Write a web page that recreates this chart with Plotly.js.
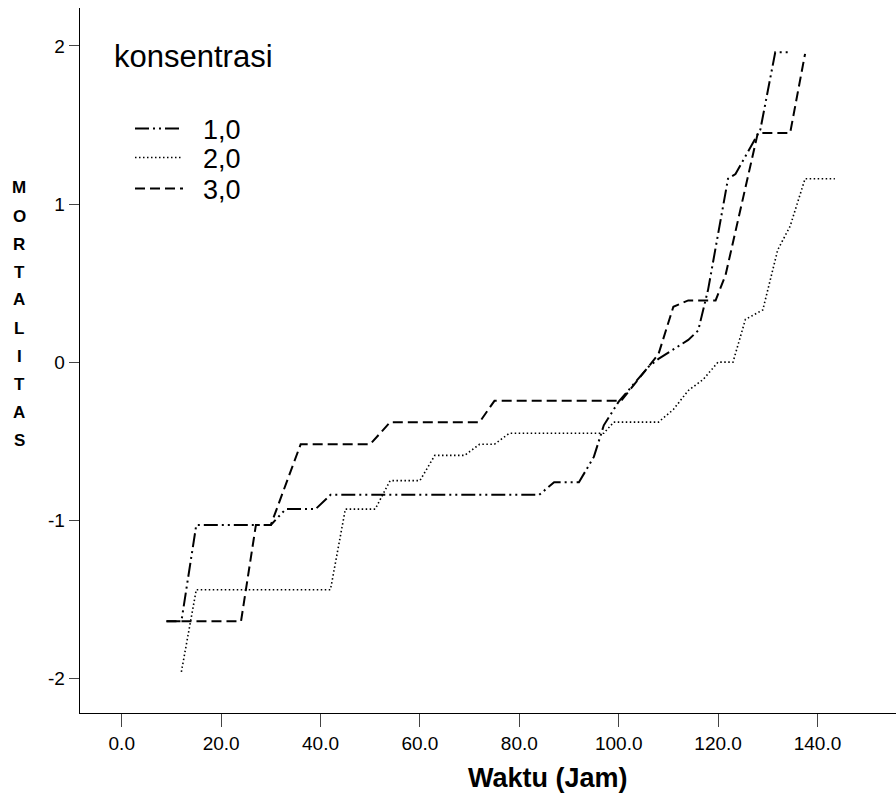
<!DOCTYPE html>
<html>
<head>
<meta charset="utf-8">
<script src="https://cdn.plot.ly/plotly-3.0.1.min.js"></script>
<style>html,body{margin:0;padding:0;background:#fff;}#chart{width:896px;height:798px;}</style>
</head>
<body>
<div id="chart"></div>
<script>
// Series names (konsentrasi)
var seriesNames = ['1,0', '2,0', '3,0'];

// 1,0 (dash-dot-dot line)
var x1 = [9, 12, 15, 30, 33, 39, 42, 84, 87, 92, 95, 97, 100, 104, 106, 108, 114, 116, 118, 122, 123.5, 128.5, 131.5, 134.5];
var y1 = [-1.64, -1.64, -1.03, -1.03, -0.93, -0.93, -0.84, -0.84, -0.76, -0.76, -0.60, -0.40, -0.25, -0.10, -0.03, 0.02, 0.14, 0.20, 0.46, 1.16, 1.19, 1.47, 1.96, 1.96];

// 2,0 (dotted line)
var x2 = [12, 15, 42, 45, 51, 54, 60, 63, 69, 72, 75, 78, 97, 99, 108, 111, 114, 117, 120, 123, 125.5, 129, 132, 134.5, 137.5, 143.5];
var y2 = [-1.96, -1.44, -1.44, -0.93, -0.93, -0.75, -0.75, -0.59, -0.59, -0.52, -0.52, -0.45, -0.45, -0.38, -0.38, -0.30, -0.18, -0.11, 0.0, 0.0, 0.27, 0.33, 0.71, 0.86, 1.16, 1.16];

// 3,0 (dashed line)
var x3 = [9, 24, 27, 30, 36, 50, 54, 72, 75, 100.5, 108, 111, 114, 119.5, 121.5, 128, 134.5, 137.5];
var y3 = [-1.64, -1.64, -1.03, -1.03, -0.52, -0.52, -0.38, -0.38, -0.245, -0.245, 0.05, 0.35, 0.39, 0.39, 0.55, 1.45, 1.45, 1.95];

// Axis ticks
var xTicks = [0, 20, 40, 60, 80, 100, 120, 140];
var xTickText = ['0.0', '20.0', '40.0', '60.0', '80.0', '100.0', '120.0', '140.0'];
var yTicks = [-2, -1, 0, 1, 2];
var yTickText = ['-2', '-1', '0', '1', '2'];
var yTitleLetters = 'MORTALITAS'.split('');

var W = 896, H = 798;
var mL = 80, mR = 0, mT = 8, mB = 85;
var plotW = W - mL - mR, plotH = H - mT - mB;
function px2x(p) { return (p - mL) / plotW; }
function px2y(p) { return 1 - (p - mT) / plotH; }
var FONT = 'Arial, Liberation Sans, sans-serif';
var gap = '\u00a0\u00a0';

var traces = [
  {x: x1, y: y1, name: gap + seriesNames[0], legend: 'legend', mode: 'lines', type: 'scatter',
   line: {color: '#000', width: 2, dash: '14px,4px,2px,4px,2px,4px'}},
  {x: x2, y: y2, name: gap + seriesNames[1], legend: 'legend2', mode: 'lines', type: 'scatter',
   line: {color: '#000', width: 1.6, dash: '1.5px,2.5px'}},
  {x: x3, y: y3, name: gap + seriesNames[2], legend: 'legend3', mode: 'lines', type: 'scatter',
   line: {color: '#000', width: 2, dash: '10px,5px'}}
];

var annotations = [];
// y-axis title, stacked letters
yTitleLetters.forEach(function (ch, i) {
  annotations.push({
    text: '<b>' + ch + '</b>', showarrow: false, xref: 'paper', yref: 'paper',
    x: px2x(19), y: px2y(188 + i * 28),
    xanchor: 'center', yanchor: 'middle',
    font: {family: FONT, size: 17, color: '#000'}
  });
});
// x-axis title
annotations.push({
  text: '<b>Waktu (Jam)</b>', showarrow: false, xref: 'paper', yref: 'paper',
  x: px2x(548), y: px2y(778), xanchor: 'center', yanchor: 'middle',
  font: {family: FONT, size: 27, color: '#000'}
});
// legend heading
annotations.push({
  text: 'konsentrasi', showarrow: false, xref: 'paper', yref: 'paper',
  x: px2x(112), y: px2y(57), xanchor: 'left', yanchor: 'middle',
  font: {family: FONT, size: 31, color: '#000'}
});

function legendAt(cy) {
  return {
    x: px2x(130), y: px2y(cy), xanchor: 'left', yanchor: 'middle',
    bgcolor: 'rgba(0,0,0,0)', borderwidth: 0,
    font: {family: FONT, size: 27, color: '#000'}, itemwidth: 48
  };
}

var layout = {
  width: W, height: H,
  margin: {l: mL, r: mR, t: mT, b: mB, pad: 0, autoexpand: false},
  paper_bgcolor: '#fff', plot_bgcolor: '#fff',
  font: {family: FONT, color: '#000'},
  showlegend: true,
  legend: legendAt(129),
  legend2: legendAt(158),
  legend3: legendAt(189),
  xaxis: {
    range: [-8.4, 155.8], tickvals: xTicks, ticktext: xTickText,
    ticks: 'outside', ticklen: 13, tickwidth: 1, tickcolor: '#444',
    showline: true, linecolor: '#000', linewidth: 1.3,
    showgrid: false, zeroline: false, automargin: false,
    tickfont: {size: 19, color: '#000'}
  },
  yaxis: {
    range: [-2.22, 2.24], tickvals: yTicks, ticktext: yTickText,
    ticks: 'outside', ticklen: 10, tickwidth: 1, tickcolor: '#444',
    showline: true, linecolor: '#000', linewidth: 1.3,
    showgrid: false, zeroline: false, automargin: false,
    tickfont: {size: 19, color: '#000'}
  },
  annotations: annotations
};

Plotly.newPlot('chart', traces, layout, {displayModeBar: false, staticPlot: true});
</script>
</body>
</html>
